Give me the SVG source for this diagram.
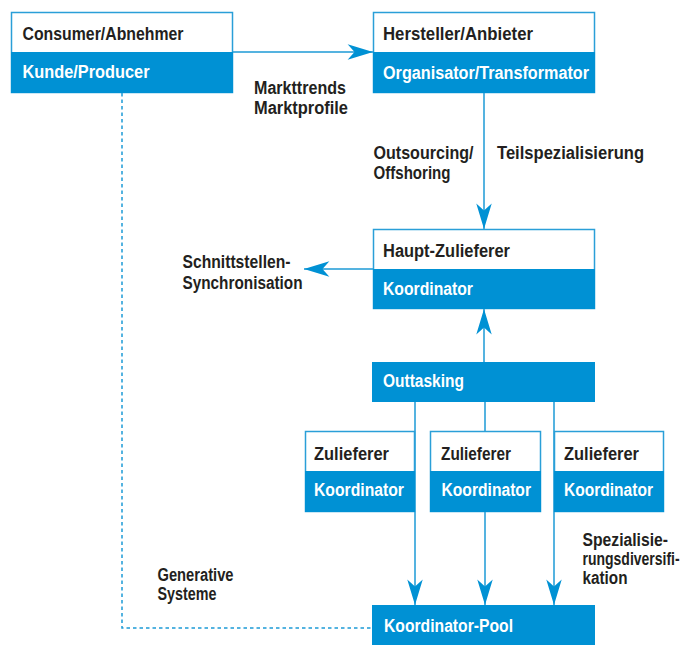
<svg xmlns="http://www.w3.org/2000/svg" width="684" height="646" viewBox="0 0 684 646">
<style>
.box{fill:#fff;stroke:#2a9fd8;stroke-width:1.5}
.blue{fill:#0091d4}
.t{font-family:"Liberation Sans",Arial,sans-serif;font-weight:bold;font-size:17.5px;fill:#231f20}
.w{fill:#fff}
.ln{stroke:#1d9ad6;stroke-width:1.5;fill:none}
.dash{stroke-dasharray:3.5 3}
</style>
<defs>
<marker id="ah" markerUnits="userSpaceOnUse" markerWidth="30" markerHeight="20" viewBox="-24 -8 26 16" refX="0" refY="0" orient="auto">
<path d="M0,0 L-22,-6.7 L-16,0 L-22,6.7 Z" fill="#0091d4"/>
</marker>
</defs>
<rect width="684" height="646" fill="#fff"/>
<g id="connectors">
<path class="ln" d="M233,52 H373" marker-end="url(#ah)"/>
<path class="ln" d="M484,93 V229" marker-end="url(#ah)"/>
<path class="ln" d="M373,269 H304" marker-end="url(#ah)"/>
<path class="ln" d="M484,362 V309" marker-end="url(#ah)"/>
<path class="ln" d="M415,402 V605" marker-end="url(#ah)"/>
<path class="ln" d="M485,402 V605" marker-end="url(#ah)"/>
<path class="ln" d="M554,402 V605" marker-end="url(#ah)"/>
<path class="ln dash" d="M122,93 V628 H372"/>
</g>
<g id="consumer">
<rect class="box" x="11.5" y="12.5" width="221" height="80"/>
<rect class="blue" x="11" y="52" width="222" height="41"/>
<text class="t" x="22.5" y="40" textLength="161" lengthAdjust="spacingAndGlyphs">Consumer/Abnehmer</text>
<text class="t w" x="22.5" y="77.5" textLength="127" lengthAdjust="spacingAndGlyphs">Kunde/Producer</text>
</g>
<g id="hersteller">
<rect class="box" x="373.5" y="12.5" width="221" height="80"/>
<rect class="blue" x="373" y="52" width="222" height="41"/>
<text class="t" x="383" y="40" textLength="150" lengthAdjust="spacingAndGlyphs">Hersteller/Anbieter</text>
<text class="t w" x="383" y="78.5" textLength="206" lengthAdjust="spacingAndGlyphs">Organisator/Transformator</text>
</g>
<g id="haupt">
<rect class="box" x="373.5" y="229.5" width="221" height="79"/>
<rect class="blue" x="373" y="269" width="222" height="40"/>
<text class="t" x="383" y="257" textLength="127" lengthAdjust="spacingAndGlyphs">Haupt-Zulieferer</text>
<text class="t w" x="383" y="295" textLength="90" lengthAdjust="spacingAndGlyphs">Koordinator</text>
</g>
<g id="outtasking">
<rect class="blue" x="372" y="362" width="223" height="40"/>
<text class="t w" x="383" y="387" textLength="81" lengthAdjust="spacingAndGlyphs">Outtasking</text>
</g>
<g id="zulieferer1">
<rect class="box" x="305.5" y="431.5" width="109" height="80"/>
<rect class="blue" x="305" y="471" width="110" height="41"/>
<text class="t" x="314" y="459.5" textLength="75" lengthAdjust="spacingAndGlyphs">Zulieferer</text>
<text class="t w" x="314" y="496" textLength="90" lengthAdjust="spacingAndGlyphs">Koordinator</text>
</g>
<g id="zulieferer2">
<rect class="box" x="430.5" y="431.5" width="110" height="80"/>
<rect class="blue" x="430" y="471" width="111" height="41"/>
<text class="t" x="441" y="459.5" textLength="70" lengthAdjust="spacingAndGlyphs">Zulieferer</text>
<text class="t w" x="441.5" y="496" textLength="89.5" lengthAdjust="spacingAndGlyphs">Koordinator</text>
</g>
<g id="zulieferer3">
<rect class="box" x="554.5" y="431.5" width="109" height="80"/>
<rect class="blue" x="554" y="471" width="110" height="41"/>
<text class="t" x="564" y="459.5" textLength="75" lengthAdjust="spacingAndGlyphs">Zulieferer</text>
<text class="t w" x="564" y="496" textLength="89" lengthAdjust="spacingAndGlyphs">Koordinator</text>
</g>
<g id="pool">
<rect class="blue" x="372" y="605" width="223" height="40"/>
<text class="t w" x="384" y="632" textLength="129" lengthAdjust="spacingAndGlyphs">Koordinator-Pool</text>
</g>
<g id="labels">
<text class="t" x="254" y="94" textLength="92" lengthAdjust="spacingAndGlyphs">Markttrends</text>
<text class="t" x="254" y="114" textLength="94" lengthAdjust="spacingAndGlyphs">Marktprofile</text>
<text class="t" x="373.5" y="158.5" textLength="100" lengthAdjust="spacingAndGlyphs">Outsourcing/</text>
<text class="t" x="373.5" y="179" textLength="77" lengthAdjust="spacingAndGlyphs">Offshoring</text>
<text class="t" x="497" y="158.5" textLength="147" lengthAdjust="spacingAndGlyphs">Teilspezialisierung</text>
<text class="t" x="182.5" y="267.5" textLength="108" lengthAdjust="spacingAndGlyphs">Schnittstellen-</text>
<text class="t" x="182.5" y="288.5" textLength="120" lengthAdjust="spacingAndGlyphs">Synchronisation</text>
<text class="t" x="157.5" y="581" textLength="76" lengthAdjust="spacingAndGlyphs">Generative</text>
<text class="t" x="157.5" y="600" textLength="59" lengthAdjust="spacingAndGlyphs">Systeme</text>
<text class="t" x="582.5" y="546" textLength="85.5" lengthAdjust="spacingAndGlyphs">Spezialisie-</text>
<text class="t" transform="translate(582.5,565) scale(0.8,1)" x="0" y="0">rungsdiversifi-</text>
<text class="t" x="582.5" y="583.5" textLength="45" lengthAdjust="spacingAndGlyphs">kation</text>
</g>
</svg>
